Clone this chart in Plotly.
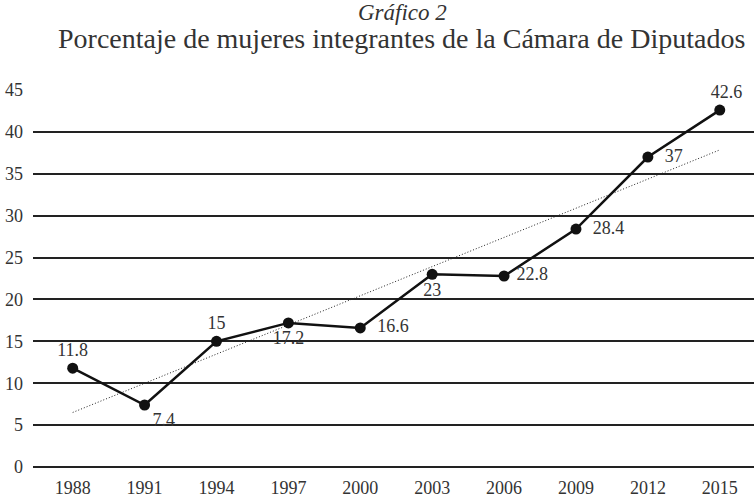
import numpy as np
import plotly.graph_objects as go

years = ["1988", "1991", "1994", "1997", "2000", "2003", "2006", "2009", "2012", "2015"]
values = [11.8, 7.4, 15, 17.2, 16.6, 23, 22.8, 28.4, 37, 42.6]
label_pos = ["top center", "bottom right", "top center", "bottom center", "middle right",
             "bottom center", "middle right", "middle right", "middle right", "top center"]
label_pad = ["", "", "", "", "\u00a0\u00a0", "", "\u00a0", "\u00a0\u00a0", "\u00a0\u00a0", "\u00a0\u00a0\u00a0"]
y_ticks = [0, 5, 10, 15, 20, 25, 30, 35, 40, 45]

idx = np.arange(len(years))
slope, intercept = np.polyfit(idx, values, 1)
trend = slope * idx + intercept

FONT = "Liberation Serif"
fig = go.Figure()
fig.add_trace(go.Scatter(
    x=idx, y=trend, mode="lines",
    line=dict(color="#222", width=1, dash="1px,2px"),
    hoverinfo="skip", showlegend=False))
fig.add_trace(go.Scatter(
    x=idx, y=values, mode="lines+markers+text",
    line=dict(color="#111", width=2.5),
    marker=dict(color="#111", size=11),
    text=[p + f"{v:g}" for p, v in zip(label_pad, values)],
    textposition=label_pos,
    textfont=dict(family=FONT, size=18, color="#333"),
    cliponaxis=False,
    showlegend=False))

H = 377
fig.update_layout(
    width=754, height=499,
    margin=dict(l=33, r=0, t=90, b=32),
    paper_bgcolor="white", plot_bgcolor="white",
    font=dict(family=FONT, color="#333"),
    xaxis=dict(range=[-0.552, 9.476], tickmode="array", tickvals=idx, ticktext=years,
               showgrid=False, zeroline=False, showline=False, ticklabelstandoff=8,
               tickfont=dict(family=FONT, size=18, color="#333")),
    yaxis=dict(range=[0, 45], tickvals=y_ticks, showgrid=True, gridcolor="#222", gridwidth=1.5,
               zeroline=True, zerolinecolor="#222", zerolinewidth=1.5,
               showline=False, ticks="", ticklabelstandoff=9,
               tickfont=dict(family=FONT, size=18, color="#333")),
)
fig.add_annotation(text="<i>Gráfico 2</i>", x=(402 - 33) / 721, xref="paper",
                   y=1 + (90 - 13) / H, yref="paper",
                   showarrow=False, xanchor="center", yanchor="middle",
                   font=dict(family=FONT, size=23, color="#333"))
fig.add_annotation(text="Porcentaje de mujeres integrantes de la Cámara de Diputados",
                   x=(401 - 33) / 721, xref="paper", y=1 + (90 - 39) / H, yref="paper",
                   showarrow=False, xanchor="center", yanchor="middle",
                   font=dict(family=FONT, size=28, color="#333"))
fig.write_html("out.html", config={"displayModeBar": False},
               post_script="document.body.style.margin='0';")
